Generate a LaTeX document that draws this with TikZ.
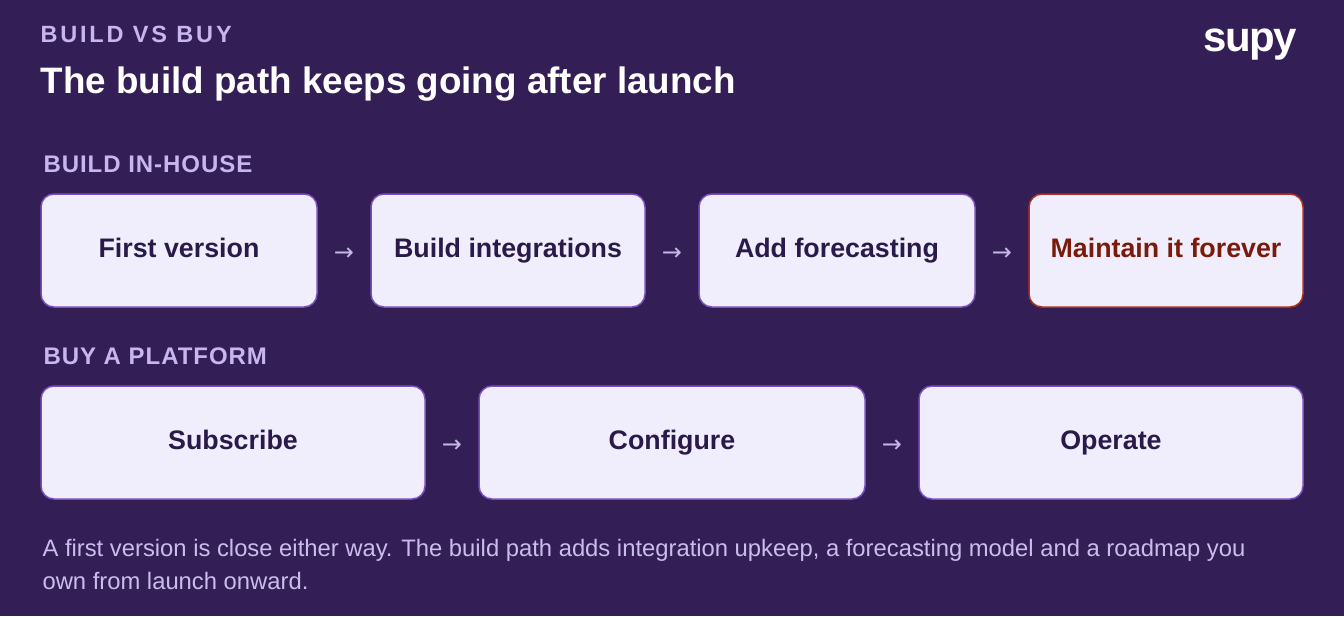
\documentclass[tikz,border=0pt]{standalone}
\usepackage{fontspec}
\setmainfont{Liberation Sans}
\newfontfamily\dejavu{DejaVu Sans}
\definecolor{bg}{HTML}{331E55}
\definecolor{boxfill}{HTML}{F0EEFC}
\definecolor{boxline}{HTML}{7A4FBF}
\definecolor{boxtext}{HTML}{2A1A4A}
\definecolor{warnline}{HTML}{B0301F}
\definecolor{warntext}{HTML}{7A1A0A}
\definecolor{label}{HTML}{C8B6F0}
\definecolor{foot}{HTML}{CBBDEB}
\definecolor{arr}{HTML}{C4B8E4}
\begin{document}
\begin{tikzpicture}[x=1pt,y=-1pt,
  stepbox/.style={draw=boxline,line width=1.5pt,fill=boxfill,rounded corners=13pt,text=boxtext,text height=19pt,text depth=5pt,font=\fontsize{26.8}{30}\selectfont\bfseries},
  warn/.style={stepbox,draw=warnline,text=warntext},
  sec/.style={anchor=west,text=label,font=\fontsize{24}{28}\selectfont\bfseries\addfontfeature{LetterSpace=4}},
  arrow/.style={text=arr,font=\dejavu\fontsize{24}{28}\selectfont}]
\useasboundingbox[fill=bg] (0,0) rectangle (1344,616);
\node[sec,font=\fontsize{23.5}{26}\selectfont\bfseries\addfontfeature{LetterSpace=12}] (kicker) at (37,34) {BUILD VS BUY};
\node[anchor=west,text=white,font=\fontsize{36.8}{40}\selectfont\bfseries] (title) at (37,84) {The build path keeps going after launch};
\node[anchor=east,text=white,font=\fontsize{42}{44}\selectfont\bfseries\addfontfeature{LetterSpace=-4}] (logo) at (1300,45) {supy};
\node[sec] (s1) at (40,164) {BUILD IN-HOUSE};
\node[sec] (s2) at (40,356) {BUY A PLATFORM};
\node[stepbox,minimum width=276pt,minimum height=113pt] (a1) at (179,250.5) {First version};
\node[stepbox,minimum width=274pt,minimum height=113pt] (a2) at (508,250.5) {Build integrations};
\node[stepbox,minimum width=276pt,minimum height=113pt] (a3) at (837,250.5) {Add forecasting};
\node[warn,minimum width=274pt,minimum height=113pt] (a4) at (1166,250.5) {Maintain it forever};
\node[arrow] (r1) at (344,254) {→};
\node[arrow] (r2) at (672,254) {→};
\node[arrow] (r3) at (1002,254) {→};
\node[stepbox,minimum width=384pt,minimum height=113pt] (b1) at (233,442.5) {Subscribe};
\node[stepbox,minimum width=386pt,minimum height=113pt] (b2) at (672,442.5) {Configure};
\node[stepbox,minimum width=384pt,minimum height=113pt] (b3) at (1111,442.5) {Operate};
\node[arrow] (q1) at (452,446) {→};
\node[arrow] (q2) at (892,446) {→};
\node[anchor=north west,text=foot,align=left,font=\fontsize{23.8}{33}\selectfont] (foot) at (39,536) {A first version is close either way. The build path adds integration upkeep, a forecasting model and a roadmap you\\own from launch onward.};
\end{tikzpicture}
\end{document}
